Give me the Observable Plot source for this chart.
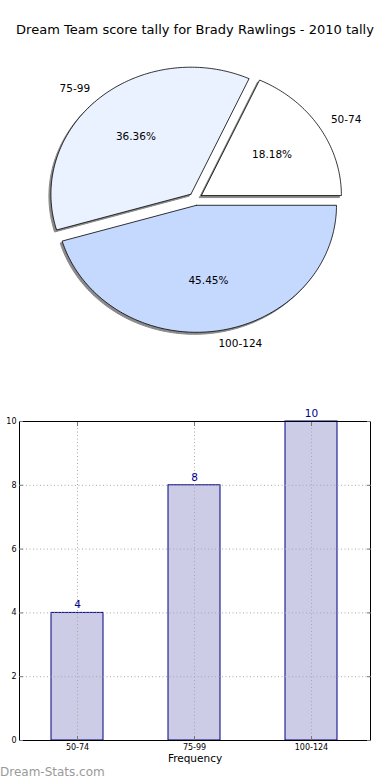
<!DOCTYPE html>
<html><head><meta charset="utf-8">
<script src="https://cdn.jsdelivr.net/npm/d3@7"></script>
<script src="https://cdn.jsdelivr.net/npm/@observablehq/plot@0.6"></script>
<style>
body{margin:0;width:390px;height:780px;position:relative;overflow:hidden;background:#fff;font-family:"DejaVu Sans",sans-serif;}
#title{position:absolute;left:0;top:22px;width:390px;text-align:center;font-size:13px;line-height:16px;color:#000;white-space:nowrap}
#pie{position:absolute;left:0;top:40px}
#bar{position:absolute;left:0;top:400px}
#wm{position:absolute;left:0;top:765px;font-size:12px;line-height:14px;color:#9a9a9a}
svg{font-family:"DejaVu Sans",sans-serif}
</style></head>
<body>
<div id="title">Dream Team score tally for Brady Rawlings - 2010 tally</div>
<div id="pie"></div>
<div id="bar"></div>
<div id="wm">Dream-Stats.com</div>
<script>
// ---- data ----
const categories = ["50-74", "75-99", "100-124"];
const counts = [4, 8, 10];
const sliceColors = ["#ffffff", "#eaf1ff", "#c5d9ff"];
const yTicks = [0, 2, 4, 6, 8, 10];
const explode = 0.05;

// ---- pie geometry (matplotlib style: start at 0°, counter-clockwise) ----
const total = d3.sum(counts);
let cum = 0;
const slices = categories.map((c, i) => {
  const a0 = cum / total * 360;
  cum += counts[i];
  const a1 = cum / total * 360;
  return {cat: c, a0, a1, mid: (a0 + a1) / 2, color: sliceColors[i],
          pct: (counts[i] / total * 100).toFixed(2) + "%"};
});
const rad = d => d * Math.PI / 180;
const pts = [];
for (const s of slices) {
  const cx = explode * Math.cos(rad(s.mid)), cy = explode * Math.sin(rad(s.mid));
  pts.push({cat: s.cat, color: s.color, x: cx, y: cy});
  const n = Math.max(2, Math.ceil(s.a1 - s.a0));
  for (let k = 0; k <= n; k++) {
    const t = rad(s.a0 + (s.a1 - s.a0) * k / n);
    pts.push({cat: s.cat, color: s.color, x: cx + Math.cos(t), y: cy + Math.sin(t)});
  }
  pts.push({cat: s.cat, color: s.color, x: cx, y: cy});
}
const labels = slices.map(s => ({
  label: s.cat,
  x: (1.1 + explode) * Math.cos(rad(s.mid)),
  y: (1.1 + explode) * Math.sin(rad(s.mid))
}));
const pcts = slices.map(s => ({
  label: s.pct,
  x: (0.6 + explode) * Math.cos(rad(s.mid)),
  y: (0.6 + explode) * Math.sin(rad(s.mid))
}));

const pie = Plot.plot({
  width: 390, height: 320,
  marginLeft: 55, marginRight: 55, marginTop: 31.5, marginBottom: 34.5,
  x: {domain: [-1, 1], axis: null},
  y: {domain: [-1, 1], axis: null},
  color: {type: "identity"},
  marks: [
    Plot.line(pts, {x: "x", y: "y", z: "cat", fill: "#8a8a8a", stroke: "#8a8a8a", strokeWidth: 1, dx: -2, dy: 2, curve: "linear"}),
    Plot.line(pts, {x: "x", y: "y", z: "cat", fill: "color", stroke: "#000", strokeWidth: 0.8, curve: "linear"}),
    Plot.text(labels.filter(d => d.x > 0), {x: "x", y: "y", text: "label", textAnchor: "start", fontSize: 10.5, fill: "#000"}),
    Plot.text(labels.filter(d => d.x <= 0), {x: "x", y: "y", text: "label", textAnchor: "end", fontSize: 10.5, fill: "#000"}),
    Plot.text(pcts, {x: "x", y: "y", text: "label", fontSize: 10.5, fill: "#000"})
  ]
});
document.getElementById("pie").append(pie);

// ---- bar chart ----
const barData = categories.map((c, i) => ({cat: c, value: counts[i]}));
const grid = {stroke: "#a8a8a8", strokeOpacity: 1, strokeDasharray: "1,2.5"};
const tickStyle = {tickSize: 4, text: null, label: null, stroke: "#777", strokeOpacity: 1};
const bar = Plot.plot({
  width: 390, height: 380,
  marginLeft: 19, marginRight: 20, marginTop: 21, marginBottom: 40,
  x: {domain: categories, paddingInner: 0.555, paddingOuter: 0.2775, label: null},
  y: {domain: [0, 10], label: null},
  marks: [
    Plot.barY(barData, {x: "cat", y: "value", fill: "#cccce6", stroke: "#000080", strokeWidth: 1}),
    Plot.gridY(yTicks, grid),
    Plot.gridX(categories, grid),
    Plot.text(barData, {x: "cat", y: "value", text: d => String(d.value), dy: -8, fill: "#00008b", fontSize: 10.5}),
    Plot.frame({stroke: "#000", strokeWidth: 1}),
    Plot.axisY(yTicks, {anchor: "left", tickSize: 0, tickPadding: 3, fontSize: 8, label: null}),
    Plot.axisY(yTicks, {anchor: "left", dx: 4, ...tickStyle}),
    Plot.axisY(yTicks, {anchor: "right", dx: -4, ...tickStyle}),
    Plot.axisX({anchor: "bottom", tickSize: 0, tickPadding: 4, fontSize: 8, label: null}),
    Plot.axisX({anchor: "bottom", dy: -4, ...tickStyle}),
    Plot.axisX({anchor: "top", dy: 4, ...tickStyle}),
    Plot.text(["Frequency"], {frameAnchor: "bottom", dy: 21.5, fontSize: 10.5, fill: "#000"})
  ]
});
document.getElementById("bar").append(bar);
</script>
</body></html>
